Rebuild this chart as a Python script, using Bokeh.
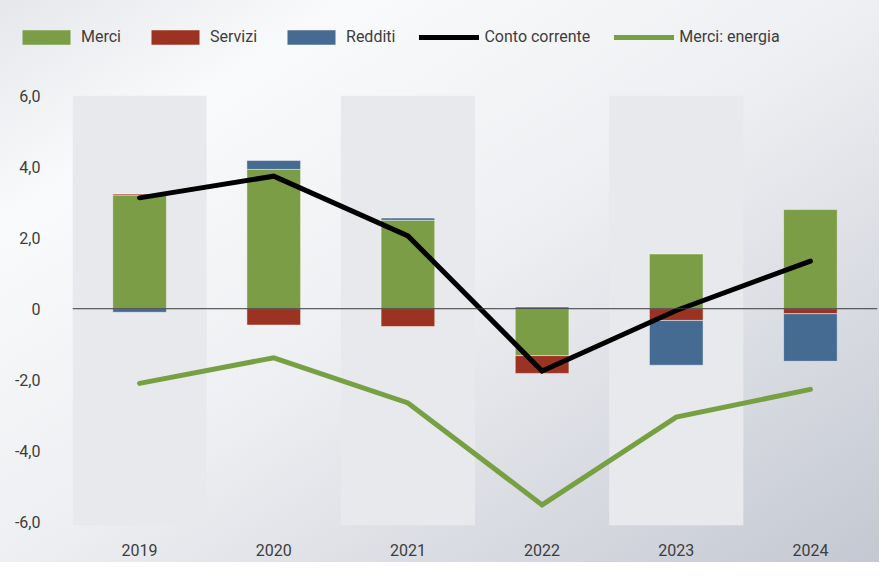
import numpy as np
from bokeh.plotting import figure
from bokeh.layouts import column
from bokeh.models import Range1d, FactorRange, FixedTicker, Span, Legend, LegendItem, ColumnDataSource
from bokeh.embed import file_html
from bokeh.resources import INLINE

# ---- data ----
years = ["2019", "2020", "2021", "2022", "2023", "2024"]
shaded_years = ["2019", "2021", "2023"]
merci = [3.20, 3.92, 2.49, -1.32, 1.54, 2.79]
servizi = [0.03, -0.46, -0.50, -0.50, -0.33, -0.14]
redditi = [-0.10, 0.25, 0.06, 0.05, -1.26, -1.34]
conto_corrente = [3.12, 3.73, 2.05, -1.75, -0.05, 1.34]
merci_energia = [-2.10, -1.38, -2.65, -5.52, -3.05, -2.27]
y_ticks = [-6, -4, -2, 0, 2, 4, 6]
y_tick_labels = ["-6,0", "-4,0", "-2,0", "0", "2,0", "4,0", "6,0"]

series = [("Merci", merci, "#7a9d46"),
          ("Servizi", servizi, "#9c3322"),
          ("Redditi", redditi, "#456b92")]
line_series = [("Conto corrente", conto_corrente, "black"),
               ("Merci: energia", merci_energia, "#77a043")]

Y_MIN, Y_MAX = -6.1, 6.0
FONT = "Roboto"
TXT = "#3d3d3d"
W = 879
LEG_H = 60
MAIN_H = 502


def clean(fig):
    fig.border_fill_alpha = 0
    fig.background_fill_alpha = 0
    fig.outline_line_color = None
    fig.xgrid.grid_line_color = None
    fig.ygrid.grid_line_color = None
    try:
        fig.frame_align = False
    except Exception:
        pass


# ---------- stacking ----------
pos = np.zeros(len(years))
neg = np.zeros(len(years))
stack_sources = {}
for name, vals, col in series:
    v = np.array(vals, dtype=float)
    bottom = np.where(v >= 0, pos, neg)
    top = bottom + v
    pos = np.where(v >= 0, top, pos)
    neg = np.where(v < 0, top, neg)
    stack_sources[name] = dict(x=years, bottom=bottom, top=top)

# ---------- main chart ----------
p = figure(x_range=years, y_range=Range1d(Y_MIN, Y_MAX),
           width=W, height=MAIN_H, output_backend="svg", toolbar_location=None,
           min_border_left=72, min_border_right=2, min_border_top=35, min_border_bottom=37)
clean(p)
p.x_range.range_padding = 0

p.vbar(x=shaded_years, width=1.0, top=Y_MAX, bottom=Y_MIN,
       fill_color="#e8e9ed", line_color=None)

for name, vals, col in series:
    p.vbar(x="x", bottom="bottom", top="top", width=0.4,
           source=ColumnDataSource(stack_sources[name]),
           fill_color=col, line_color="white", line_alpha=0.45, line_width=1)

p.add_layout(Span(location=0, dimension="width", line_color="#3a3a3a", line_width=1))

for name, vals, col in line_series:
    p.line(years, vals, line_color=col, line_width=5, line_cap="round", line_join="miter")

for ax in (p.xaxis[0], p.yaxis[0]):
    ax.axis_line_color = None
    ax.major_tick_line_color = None
    ax.minor_tick_line_color = None
    ax.major_label_text_font = FONT
    ax.major_label_text_font_size = "16px"
    ax.major_label_text_color = TXT
p.xaxis.major_label_standoff = 12
p.yaxis.ticker = FixedTicker(ticks=y_ticks)
p.yaxis.major_label_overrides = {t: l for t, l in zip(y_ticks, y_tick_labels)}
p.yaxis.major_label_standoff = 26

# ---------- legend strip (same data, drawn outside its visible range) ----------
lg = figure(width=W, height=LEG_H, x_range=FactorRange(*years), y_range=Range1d(100, 101),
            output_backend="svg", toolbar_location=None,
            min_border_left=0, min_border_right=0, min_border_top=0, min_border_bottom=0)
clean(lg)
lg.axis.visible = False
items = []
for name, vals, col in series:
    r = lg.vbar(x="x", bottom="bottom", top="top", width=0.4,
                source=ColumnDataSource(stack_sources[name]),
                fill_color=col, line_color=None)
    items.append(LegendItem(label=name, renderers=[r], index=0))
for name, vals, col in line_series:
    r = lg.line(years, vals, line_color=col, line_width=5, line_cap="round")
    items.append(LegendItem(label=name, renderers=[r]))

legend = Legend(items=items, orientation="horizontal", location=(16, 14),
                glyph_width=60, glyph_height=18, label_standoff=5, spacing=24,
                padding=4, margin=0, border_line_color=None, background_fill_alpha=0,
                label_text_font=FONT, label_text_font_size="16px", label_text_color=TXT)
lg.add_layout(legend, "center")

layout = column(lg, p, spacing=0, width=W, height=LEG_H + MAIN_H)
layout.styles = {"background": "linear-gradient(to bottom right, #e5e7eb 0%, #f9fafb 20%, #eeeff2 50%, #c4c8d2 100%)"}

open("out.html", "w").write(file_html(layout, INLINE))
